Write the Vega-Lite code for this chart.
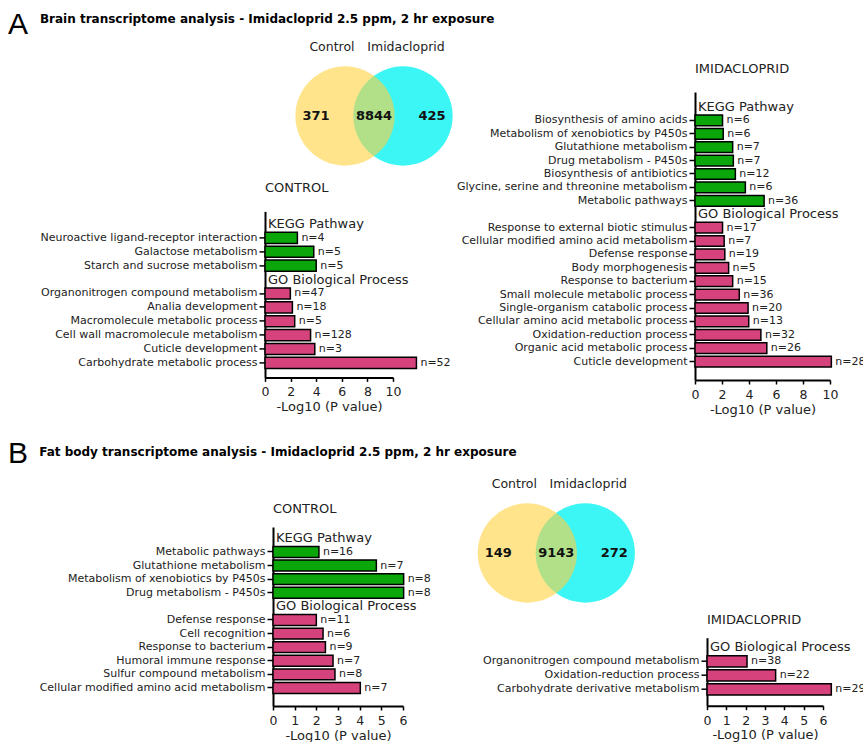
{
  "$schema": "https://vega.github.io/schema/vega-lite/v6.json",
  "padding": {"left": 7, "top": 10, "right": 0, "bottom": 0},
  "config": {
    "font": "DejaVu Sans",
    "view": {"stroke": null},
    "axis": {"domainColor": "#000", "domainWidth": 2, "tickColor": "#000", "tickWidth": 1.5, "labelColor": "#222", "titleColor": "#222", "grid": false, "titleFontWeight": "normal"},
    "axisX": {"labelFontSize": 12.5, "titleFontSize": 13, "tickSize": 4, "labelPadding": 4.5, "titlePadding": 2, "labelFlush": false, "labelOverlap": false},
    "axisY": {"labelFontSize": 11, "labelLimit": 0, "tickSize": 6, "labelPadding": 2},
    "title": {"anchor": "start", "fontSize": 13, "fontWeight": "normal", "color": "#222", "baseline": "bottom"}
  },
  "datasets": {
    "aControl": [
      {"term": "KEGG Pathway", "db": "header"},
      {"term": "Neuroactive ligand-receptor interaction", "db": "KEGG", "value": 2.53, "label": "n=4"},
      {"term": "Galactose metabolism", "db": "KEGG", "value": 3.81, "label": "n=5"},
      {"term": "Starch and sucrose metabolism", "db": "KEGG", "value": 4.0, "label": "n=5"},
      {"term": "GO Biological Process", "db": "header"},
      {"term": "Organonitrogen compound metabolism", "db": "GO", "value": 1.98, "label": "n=47"},
      {"term": "Analia development", "db": "GO", "value": 2.14, "label": "n=18"},
      {"term": "Macromolecule metabolic process", "db": "GO", "value": 2.32, "label": "n=5"},
      {"term": "Cell wall macromolecule metabolism", "db": "GO", "value": 3.56, "label": "n=128"},
      {"term": "Cuticle development", "db": "GO", "value": 3.89, "label": "n=3"},
      {"term": "Carbohydrate metabolic process", "db": "GO", "value": 11.83, "label": "n=52"}
    ],
    "aImid": [
      {"term": "KEGG Pathway", "db": "header"},
      {"term": "Biosynthesis of amino acids", "db": "KEGG", "value": 2.04, "label": "n=6"},
      {"term": "Metabolism of xenobiotics by P450s", "db": "KEGG", "value": 2.09, "label": "n=6"},
      {"term": "Glutathione metabolism", "db": "KEGG", "value": 2.79, "label": "n=7"},
      {"term": "Drug metabolism - P450s", "db": "KEGG", "value": 2.84, "label": "n=7"},
      {"term": "Biosynthesis of antibiotics", "db": "KEGG", "value": 2.99, "label": "n=12"},
      {"term": "Glycine, serine and threonine metabolism", "db": "KEGG", "value": 3.73, "label": "n=6"},
      {"term": "Metabolic pathways", "db": "KEGG", "value": 5.12, "label": "n=36"},
      {"term": "GO Biological Process", "db": "header"},
      {"term": "Response to external biotic stimulus", "db": "GO", "value": 2.04, "label": "n=17"},
      {"term": "Cellular modified amino acid metabolism", "db": "GO", "value": 2.16, "label": "n=7"},
      {"term": "Defense response", "db": "GO", "value": 2.21, "label": "n=19"},
      {"term": "Body morphogenesis", "db": "GO", "value": 2.49, "label": "n=5"},
      {"term": "Response to bacterium", "db": "GO", "value": 2.79, "label": "n=15"},
      {"term": "Small molecule metabolic process", "db": "GO", "value": 3.28, "label": "n=36"},
      {"term": "Single-organism catabolic process", "db": "GO", "value": 3.93, "label": "n=20"},
      {"term": "Cellular amino acid metabolic process", "db": "GO", "value": 3.98, "label": "n=13"},
      {"term": "Oxidation-reduction process", "db": "GO", "value": 4.88, "label": "n=32"},
      {"term": "Organic acid metabolic process", "db": "GO", "value": 5.32, "label": "n=26"},
      {"term": "Cuticle development", "db": "GO", "value": 10.1, "label": "n=28"}
    ],
    "bControl": [
      {"term": "KEGG Pathway", "db": "header"},
      {"term": "Metabolic pathways", "db": "KEGG", "value": 2.12, "label": "n=16"},
      {"term": "Glutathione metabolism", "db": "KEGG", "value": 4.77, "label": "n=7"},
      {"term": "Metabolism of xenobiotics by P450s", "db": "KEGG", "value": 6.03, "label": "n=8"},
      {"term": "Drug metabolism - P450s", "db": "KEGG", "value": 6.03, "label": "n=8"},
      {"term": "GO Biological Process", "db": "header"},
      {"term": "Defense response", "db": "GO", "value": 2.0, "label": "n=11"},
      {"term": "Cell recognition", "db": "GO", "value": 2.31, "label": "n=6"},
      {"term": "Response to bacterium", "db": "GO", "value": 2.42, "label": "n=9"},
      {"term": "Humoral immune response", "db": "GO", "value": 2.77, "label": "n=7"},
      {"term": "Sulfur compound metabolism", "db": "GO", "value": 2.86, "label": "n=8"},
      {"term": "Cellular modified amino acid metabolism", "db": "GO", "value": 4.03, "label": "n=7"}
    ],
    "bImid": [
      {"term": "GO Biological Process", "db": "header"},
      {"term": "Organonitrogen compound metabolism", "db": "GO", "value": 2.07, "label": "n=38"},
      {"term": "Oxidation-reduction process", "db": "GO", "value": 3.55, "label": "n=22"},
      {"term": "Carbohydrate derivative metabolism", "db": "GO", "value": 6.43, "label": "n=29"}
    ],
    "vennSets": [{"set": "Imidacloprid"}, {"set": "Control"}],
    "vennACounts": [
      {"region": "Control only", "count": 371},
      {"region": "Both", "count": 8844},
      {"region": "Imidacloprid only", "count": 425}
    ],
    "vennBCounts": [
      {"region": "Control only", "count": 149},
      {"region": "Both", "count": 9143},
      {"region": "Imidacloprid only", "count": 272}
    ]
  },
  "vconcat": [
    {
      "spacing": 10,
      "hconcat": [
        {"width": 22, "height": 10, "data": {"values": [{"letter": "A"}]}, "mark": {"type": "text", "fontSize": 30, "font": "Liberation Sans", "color": "#000", "dy": -72}, "encoding": {"text": {"field": "letter", "type": "nominal"}}},
        {
          "title": {"text": "Brain transcriptome analysis - Imidacloprid 2.5 ppm, 2 hr exposure", "anchor": "start", "frame": "bounds", "fontSize": 12, "fontWeight": "bold", "color": "#000", "baseline": "bottom", "offset": 3},
          "spacing": 3,
          "hconcat": [
            {
              "spacing": 15.4,
              "vconcat": [
                {
                  "width": 174, "height": 48,
                  "layer": [
                    {"data": {"name": "vennSets"}, "transform": [{"filter": "datum.set == 'Imidacloprid'"}], "mark": {"type": "circle", "size": 9852, "opacity": 1, "color": "#3CF5F5", "strokeWidth": 0},
                     "encoding": {"x": {"field": "set", "type": "nominal", "axis": null, "scale": {"type": "point", "domain": ["Control only", "Control", "Both", "Imidacloprid", "Imidacloprid only"], "padding": 1, "align": 0.879}}}},
                    {"data": {"name": "vennSets"}, "transform": [{"filter": "datum.set == 'Control'"}], "mark": {"type": "circle", "size": 9852, "opacity": 0.6, "color": "#FFD23F", "strokeWidth": 0},
                     "encoding": {"x": {"field": "set", "type": "nominal", "axis": null, "scale": {"type": "point", "domain": ["Control only", "Control", "Both", "Imidacloprid", "Imidacloprid only"], "padding": 1, "align": 0.879}}}},
                    {"data": {"name": "vennSets"}, "transform": [{"filter": "datum.set == 'Control'"}], "mark": {"type": "text", "fontSize": 12.5, "dx": -13, "dy": -69, "color": "#222"},
                     "encoding": {"x": {"field": "set", "type": "nominal", "axis": null, "scale": {"type": "point", "domain": ["Control only", "Control", "Both", "Imidacloprid", "Imidacloprid only"], "padding": 1, "align": 0.879}}, "text": {"field": "set", "type": "nominal"}}},
                    {"data": {"name": "vennSets"}, "transform": [{"filter": "datum.set == 'Imidacloprid'"}], "mark": {"type": "text", "fontSize": 12.5, "dx": 3, "dy": -69, "color": "#222"},
                     "encoding": {"x": {"field": "set", "type": "nominal", "axis": null, "scale": {"type": "point", "domain": ["Control only", "Control", "Both", "Imidacloprid", "Imidacloprid only"], "padding": 1, "align": 0.879}}, "text": {"field": "set", "type": "nominal"}}},
                    {"data": {"name": "vennACounts"}, "mark": {"type": "text", "fontSize": 13, "fontWeight": "bold", "color": "#111"},
                     "encoding": {"x": {"field": "region", "type": "nominal", "axis": null, "scale": {"type": "point", "domain": ["Control only", "Control", "Both", "Imidacloprid", "Imidacloprid only"], "padding": 1, "align": 0.879}}, "text": {"field": "count", "type": "nominal"}}}
                  ]
                },
                {
                  "width": 128, "height": 166,
                  "title": {"text": "CONTROL", "frame": "group", "offset": 16.6},
                  "data": {"name": "aControl"},
                  "encoding": {
                    "y": {"field": "term", "type": "nominal", "title": null,
                      "scale": {"domain": ["KEGG Pathway", "Neuroactive ligand-receptor interaction", "Galactose metabolism", "Starch and sucrose metabolism", "GO Biological Process", "Organonitrogen compound metabolism", "Analia development", "Macromolecule metabolic process", "Cell wall macromolecule metabolism", "Cuticle development", "Carbohydrate metabolic process"], "paddingInner": 0.2, "paddingOuter": 0.575, "align": 0.44},
                      "axis": {"labelExpr": "datum.value == 'KEGG Pathway' || datum.value == 'GO Biological Process' ? '' : datum.label", "tickOpacity": {"condition": {"test": "datum.value == 'KEGG Pathway' || datum.value == 'GO Biological Process'", "value": 0}, "value": 1}}}
                  },
                  "layer": [
                    {"transform": [{"filter": "datum.db != 'header'"}], "mark": {"type": "bar", "stroke": "#000", "strokeWidth": 1.5},
                     "encoding": {"x": {"field": "value", "type": "quantitative", "scale": {"domain": [0, 10], "nice": false}, "axis": {"values": [0, 2, 4, 6, 8, 10], "tickCount": 20, "format": "d", "labelOverlap": false, "title": "-Log10 (P value)"}},
                       "color": {"field": "db", "type": "nominal", "scale": {"domain": ["KEGG", "GO"], "range": ["#0AA60A", "#D6437C"]}, "legend": null}}},
                    {"transform": [{"filter": "datum.db != 'header'"}], "mark": {"type": "text", "align": "left", "dx": 4, "fontSize": 11, "color": "#222"},
                     "encoding": {"x": {"field": "value", "type": "quantitative"}, "text": {"field": "label", "type": "nominal"}}},
                    {"transform": [{"filter": "datum.db == 'header'"}], "mark": {"type": "text", "align": "left", "dx": 3, "fontSize": 13, "color": "#222"},
                     "encoding": {"x": {"datum": 0, "type": "quantitative"}, "text": {"field": "term", "type": "nominal"}}}
                  ]
                }
              ]
            },
            {
              "width": 135, "height": 288,
              "title": {"text": "IMIDACLOPRID", "frame": "group", "offset": 15.6},
              "data": {"name": "aImid"},
              "encoding": {
                "y": {"field": "term", "type": "nominal", "title": null,
                  "scale": {"domain": ["KEGG Pathway", "Biosynthesis of amino acids", "Metabolism of xenobiotics by P450s", "Glutathione metabolism", "Drug metabolism - P450s", "Biosynthesis of antibiotics", "Glycine, serine and threonine metabolism", "Metabolic pathways", "GO Biological Process", "Response to external biotic stimulus", "Cellular modified amino acid metabolism", "Defense response", "Body morphogenesis", "Response to bacterium", "Small molecule metabolic process", "Single-organism catabolic process", "Cellular amino acid metabolic process", "Oxidation-reduction process", "Organic acid metabolic process", "Cuticle development"], "paddingInner": 0.2, "paddingOuter": 0.845, "align": 0.425},
                  "axis": {"labelExpr": "datum.value == 'KEGG Pathway' || datum.value == 'GO Biological Process' ? '' : datum.label", "tickOpacity": {"condition": {"test": "datum.value == 'KEGG Pathway' || datum.value == 'GO Biological Process'", "value": 0}, "value": 1}}}
              },
              "layer": [
                {"transform": [{"filter": "datum.db != 'header'"}], "mark": {"type": "bar", "stroke": "#000", "strokeWidth": 1.5},
                 "encoding": {"x": {"field": "value", "type": "quantitative", "scale": {"domain": [0, 10], "nice": false}, "axis": {"values": [0, 2, 4, 6, 8, 10], "tickCount": 20, "format": "d", "labelOverlap": false, "title": "-Log10 (P value)"}},
                   "color": {"field": "db", "type": "nominal", "scale": {"domain": ["KEGG", "GO"], "range": ["#0AA60A", "#D6437C"]}, "legend": null}}},
                {"transform": [{"filter": "datum.db != 'header'"}], "mark": {"type": "text", "align": "left", "dx": 4, "fontSize": 11, "color": "#222"},
                 "encoding": {"x": {"field": "value", "type": "quantitative"}, "text": {"field": "label", "type": "nominal"}}},
                {"transform": [{"filter": "datum.db == 'header'"}], "mark": {"type": "text", "align": "left", "dx": 3, "fontSize": 13, "color": "#222"},
                 "encoding": {"x": {"datum": 0, "type": "quantitative"}, "text": {"field": "term", "type": "nominal"}}}
              ]
            }
          ]
        }
      ]
    },
    {
      "spacing": 10,
      "hconcat": [
        {"width": 22, "height": 10, "data": {"values": [{"letter": "B"}]}, "mark": {"type": "text", "fontSize": 30, "font": "Liberation Sans", "color": "#000", "dy": -78.5}, "encoding": {"text": {"field": "letter", "type": "nominal"}}},
        {
          "title": {"text": "Fat body transcriptome analysis - Imidacloprid 2.5 ppm, 2 hr exposure", "anchor": "start", "frame": "bounds", "fontSize": 12, "fontWeight": "bold", "color": "#000", "baseline": "bottom", "offset": 7.5},
          "spacing": 46,
          "hconcat": [
            {
              "width": 130, "height": 179,
              "title": {"text": "CONTROL", "frame": "group", "offset": 10.6},
              "data": {"name": "bControl"},
              "encoding": {
                "y": {"field": "term", "type": "nominal", "title": null,
                  "scale": {"domain": ["KEGG Pathway", "Metabolic pathways", "Glutathione metabolism", "Metabolism of xenobiotics by P450s", "Drug metabolism - P450s", "GO Biological Process", "Defense response", "Cell recognition", "Response to bacterium", "Humoral immune response", "Sulfur compound metabolism", "Cellular modified amino acid metabolism"], "paddingInner": 0.2, "paddingOuter": 0.68, "align": 0.32},
                  "axis": {"labelExpr": "datum.value == 'KEGG Pathway' || datum.value == 'GO Biological Process' ? '' : datum.label", "tickOpacity": {"condition": {"test": "datum.value == 'KEGG Pathway' || datum.value == 'GO Biological Process'", "value": 0}, "value": 1}}}
              },
              "layer": [
                {"transform": [{"filter": "datum.db != 'header'"}], "mark": {"type": "bar", "stroke": "#000", "strokeWidth": 1.5},
                 "encoding": {"x": {"field": "value", "type": "quantitative", "scale": {"domain": [0, 6], "nice": false}, "axis": {"values": [0, 1, 2, 3, 4, 5, 6], "tickCount": 20, "format": "d", "labelOverlap": false, "title": "-Log10 (P value)"}},
                   "color": {"field": "db", "type": "nominal", "scale": {"domain": ["KEGG", "GO"], "range": ["#0AA60A", "#D6437C"]}, "legend": null}}},
                {"transform": [{"filter": "datum.db != 'header'"}], "mark": {"type": "text", "align": "left", "dx": 4, "fontSize": 11, "color": "#222"},
                 "encoding": {"x": {"field": "value", "type": "quantitative"}, "text": {"field": "label", "type": "nominal"}}},
                {"transform": [{"filter": "datum.db == 'header'"}], "mark": {"type": "text", "align": "left", "dx": 3, "fontSize": 13, "color": "#222"},
                 "encoding": {"x": {"datum": 0, "type": "quantitative"}, "text": {"field": "term", "type": "nominal"}}}
              ]
            },
            {
              "spacing": 10.7,
              "vconcat": [
                {
                  "width": 174, "height": 52,
                  "layer": [
                    {"data": {"name": "vennSets"}, "transform": [{"filter": "datum.set == 'Imidacloprid'"}], "mark": {"type": "circle", "size": 9852, "opacity": 1, "color": "#3CF5F5", "strokeWidth": 0},
                     "encoding": {"x": {"field": "set", "type": "nominal", "axis": null, "scale": {"type": "point", "domain": ["Control only", "Control", "Both", "Imidacloprid", "Imidacloprid only"], "padding": 1, "align": 0.5}}, "xOffset": {"value": -237.7}}},
                    {"data": {"name": "vennSets"}, "transform": [{"filter": "datum.set == 'Control'"}], "mark": {"type": "circle", "size": 9852, "opacity": 0.6, "color": "#FFD23F", "strokeWidth": 0},
                     "encoding": {"x": {"field": "set", "type": "nominal", "axis": null, "scale": {"type": "point", "domain": ["Control only", "Control", "Both", "Imidacloprid", "Imidacloprid only"], "padding": 1, "align": 0.5}}, "xOffset": {"value": -237.7}}},
                    {"data": {"name": "vennSets"}, "transform": [{"filter": "datum.set == 'Control'"}], "mark": {"type": "text", "fontSize": 12.5, "dx": -250.7, "dy": -69, "color": "#222"},
                     "encoding": {"x": {"field": "set", "type": "nominal", "axis": null, "scale": {"type": "point", "domain": ["Control only", "Control", "Both", "Imidacloprid", "Imidacloprid only"], "padding": 1, "align": 0.5}}, "text": {"field": "set", "type": "nominal"}}},
                    {"data": {"name": "vennSets"}, "transform": [{"filter": "datum.set == 'Imidacloprid'"}], "mark": {"type": "text", "fontSize": 12.5, "dx": -234.7, "dy": -69, "color": "#222"},
                     "encoding": {"x": {"field": "set", "type": "nominal", "axis": null, "scale": {"type": "point", "domain": ["Control only", "Control", "Both", "Imidacloprid", "Imidacloprid only"], "padding": 1, "align": 0.5}}, "text": {"field": "set", "type": "nominal"}}},
                    {"data": {"name": "vennBCounts"}, "mark": {"type": "text", "fontSize": 13, "fontWeight": "bold", "color": "#111", "dx": -237.7},
                     "encoding": {"x": {"field": "region", "type": "nominal", "axis": null, "scale": {"type": "point", "domain": ["Control only", "Control", "Both", "Imidacloprid", "Imidacloprid only"], "padding": 1, "align": 0.5}}, "text": {"field": "count", "type": "nominal"}}}
                  ]
                },
                {
                  "width": 116, "height": 68,
                  "title": {"text": "IMIDACLOPRID", "frame": "group", "offset": 10.8},
                  "data": {"name": "bImid"},
                  "encoding": {
                    "y": {"field": "term", "type": "nominal", "title": null,
                      "scale": {"domain": ["GO Biological Process", "Organonitrogen compound metabolism", "Oxidation-reduction process", "Carbohydrate derivative metabolism"], "paddingInner": 0.2, "paddingOuter": 0.53, "align": 0.28},
                      "axis": {"labelExpr": "datum.value == 'KEGG Pathway' || datum.value == 'GO Biological Process' ? '' : datum.label", "tickOpacity": {"condition": {"test": "datum.value == 'KEGG Pathway' || datum.value == 'GO Biological Process'", "value": 0}, "value": 1}}}
                  },
                  "layer": [
                    {"transform": [{"filter": "datum.db != 'header'"}], "mark": {"type": "bar", "stroke": "#000", "strokeWidth": 1.5},
                     "encoding": {"x": {"field": "value", "type": "quantitative", "scale": {"domain": [0, 6], "nice": false}, "axis": {"values": [0, 1, 2, 3, 4, 5, 6], "tickCount": 20, "format": "d", "labelOverlap": false, "title": "-Log10 (P value)"}},
                       "color": {"field": "db", "type": "nominal", "scale": {"domain": ["KEGG", "GO"], "range": ["#0AA60A", "#D6437C"]}, "legend": null}}},
                    {"transform": [{"filter": "datum.db != 'header'"}], "mark": {"type": "text", "align": "left", "dx": 4, "fontSize": 11, "color": "#222"},
                     "encoding": {"x": {"field": "value", "type": "quantitative"}, "text": {"field": "label", "type": "nominal"}}},
                    {"transform": [{"filter": "datum.db == 'header'"}], "mark": {"type": "text", "align": "left", "dx": 3, "fontSize": 13, "color": "#222"},
                     "encoding": {"x": {"datum": 0, "type": "quantitative"}, "text": {"field": "term", "type": "nominal"}}}
                  ]
                }
              ]
            }
          ]
        }
      ]
    }
  ],
  "spacing": 22
}
